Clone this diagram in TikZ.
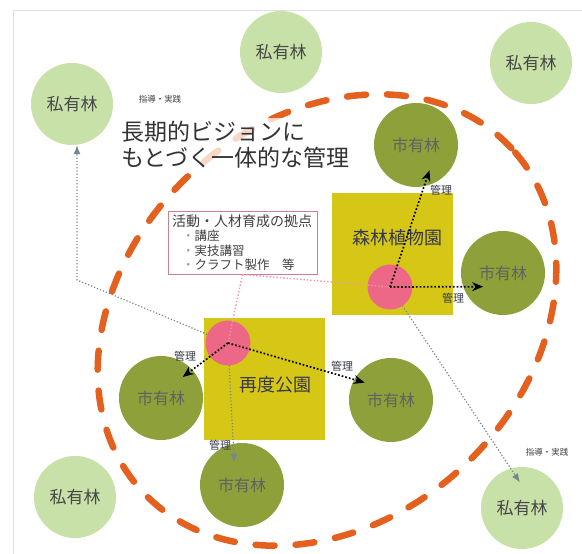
\documentclass[tikz,border=0pt]{standalone}
\usepackage{fontspec}
\setmainfont{Noto Sans CJK JP}
\usetikzlibrary{arrows.meta}

\definecolor{privgreen}{RGB}{200,225,168}
\definecolor{citygreen}{RGB}{141,160,58}
\definecolor{parkyellow}{RGB}{214,199,22}
\definecolor{hubpink}{RGB}{236,104,134}
\definecolor{ringorange}{RGB}{228,96,30}
\definecolor{linkgrey}{RGB}{120,133,140}
\definecolor{linkpink}{RGB}{242,150,172}
\definecolor{labelink}{RGB}{55,55,75}

\begin{document}
\begin{tikzpicture}[
                    x=1pt, y=1pt,
                    >={Stealth[length=11pt,width=9pt]},
                    private/.style={circle, fill=privgreen, minimum size=82pt, inner sep=0pt,
                        text=black!72, font=\fontsize{17}{17}\selectfont},
                    city/.style={circle, fill=citygreen, minimum size=84pt, inner sep=0pt,
                        text=black!62, font=\fontsize{16}{16}\selectfont},
                    park/.style={rectangle, fill=parkyellow, minimum width=121pt, minimum height=122pt},
                    parkname/.style={text=labelink, font=\fontsize{18}{18}\selectfont},
                    hub/.style={circle, fill=hubpink, minimum size=45pt, inner sep=0pt},
                    ring/.style={ringorange, line width=6.5pt, line cap=round, dash pattern=on 19pt off 21pt},
                    manage/.style={->, dotted, line width=1.7pt},
                    guide/.style={-{Latex[length=9pt,width=7pt]}, dotted, line width=1.2pt, linkgrey},
                    baseline/.style={linkpink, dotted, line width=1.4pt},
                    basebox/.style={draw=linkpink!85!black, line width=0.8pt, fill=white,
                        text width=141pt, minimum height=63pt, inner xsep=4pt, inner ysep=2pt,
                        align=left, text=black!75, font=\fontsize{12.5}{14.5}\selectfont},
                    tag/.style={text=labelink, inner sep=0pt, font=\fontsize{11}{11}\selectfont},
                    smalltag/.style={text=black!75, inner sep=0pt, font=\fontsize{8.5}{8.5}\selectfont},
                ]
                \useasboundingbox (0,0) rectangle (582,554);
                \draw[black!12] (13,0) -- (13,544) -- (582,544);

                \draw[ring, rotate around={43:(327,234)}] (327,234) ellipse [x radius=252pt, y radius=200pt];

                \node[private] (pA) at (72,450) {私有林};
                \node[private] (pB) at (281,502) {私有林};
                \node[private] (pC) at (531,491) {私有林};
                \node[private] (pD) at (75,57) {私有林};
                \node[private] (pE) at (522,46) {私有林};

                \node[city] (cTop) at (416,409) {市有林};
                \node[city] (cRight) at (503,281) {市有林};
                \node[city] (cLeft) at (161,156) {市有林};
                \node[city] (cMid) at (391,154) {市有林};
                \node[city] (cBot) at (242,69) {市有林};

                \node[park] (shinrin) at (392.5,300) {};
                \node[park] (futatabi) at (264.5,175) {};
                \node[parkname] (shinrinName) at (397,316) {森林植物園};
                \node[parkname] (futatabiName) at (275,169) {再度公園};

                \coordinate (hubSc) at (390,267);
                \coordinate (hubFc) at (228,211);
                \coordinate (bend) at (77,274);
                \draw[guide] (hubFc) -- (bend) -- (bend |- pA.south);
                \draw[guide, shorten >=-19pt] (hubFc) -- (cBot.102);
                \draw[guide, shorten >=-17pt] (hubSc) -- (pE.106);

                \node[hub] (hubS) at (hubSc) {};
                \node[hub] (hubF) at (hubFc) {};

                \node[basebox] (base) at (242.5,311.5) {%
                    {\fontsize{14}{16}\selectfont 活動・人材育成の拠点}\\
                    \hspace*{10pt}{\color{black!40}・}講座\\
                    \hspace*{10pt}{\color{black!40}・}実技講習\\
                    \hspace*{10pt}{\color{black!40}・}クラフト製作　等};
                \draw[baseline] (base.south) -- (hubF.center);
                \draw[baseline] (base.south) -- (hubS.center);

                \draw[manage, shorten >=-17pt] (hubS.center) -- (cTop.281);
                \draw[manage, shorten >=-20pt] (hubS.center) -- (cRight.199);
                \draw[manage, shorten >=-12pt] (hubF.center) -- (cLeft.42);
                \draw[manage, shorten >=-11pt] (hubF.center) -- (cMid.151);

                \node[tag] (mTop) at (441,364) {管理};
                \node[tag] (mRight) at (453,256) {管理};
                \node[tag] (mLeft) at (185,198) {管理};
                \node[tag] (mMid) at (342,188) {管理};
                \node[tag] (mBot) at (220,109) {管理};
                \node[smalltag] (gTop) at (160,455) {指導・実践};
                \node[smalltag] (gBot) at (547,102) {指導・実践};

                \node[anchor=west, align=left, fill=white, fill opacity=.75, text opacity=1,
                      inner sep=3pt, text=black!80, font=\fontsize{23}{25.5}\selectfont]
                      (vision) at (118,409.5) {長期的ビジョンに\\もとづく一体的な管理};
            \end{tikzpicture}
\end{document}
